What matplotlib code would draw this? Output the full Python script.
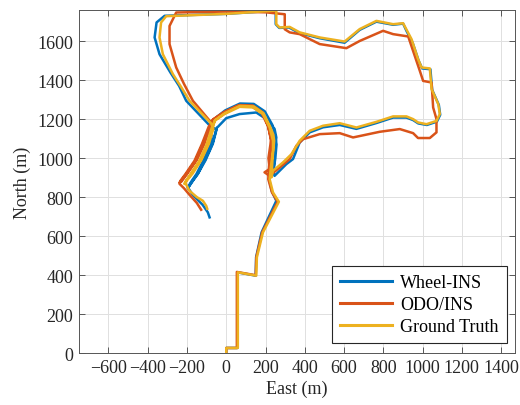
import matplotlib
matplotlib.use("Agg")
import matplotlib.pyplot as plt

plt.rcParams['font.family'] = ['Liberation Serif', 'DejaVu Serif']
plt.rcParams['mathtext.fontset'] = 'stix'

# ---------------- data (East, North in metres) ----------------
gt_east = [0, 0, 59, 59, 153, 156, 187, 268, 238, 221,
           228, 238, 238, 221, 187, 136, 68, -9, -60,
           -68, -94, -133, -179, -204, -213,
           -205, -172, -127, -88, -66, -77,
           -187, -230, -272, -323, -340, -332, -306,
           0, 255,
           255, 272, 323, 374, 476, 603, 680, 765, 850, 901,
           944, 977, 995, 1037, 1046, 1080, 1088, 1071, 1020, 977, 952, 918, 850,
           765, 663, 578, 493, 425, 374, 332, 289, 238, 230,
           236, 244, 240, 224, 190, 140, 70, -5, -55,
           -74, -100, -138, -184, -210,
           -187, -150, -119, -102, -97]
gt_north = [0, 26, 26, 414, 397, 491, 619, 776, 824, 892,
            960, 1040, 1089, 1157, 1226, 1260, 1263, 1226, 1191,
            1157, 1072, 986, 918, 884, 867,
            880, 920, 990, 1075, 1150, 1178,
            1294, 1365, 1431, 1533, 1619, 1696, 1728,
            1740, 1757,
            1687, 1670, 1673, 1645, 1619, 1598, 1662, 1704, 1687, 1692,
            1610, 1508, 1465, 1460, 1354, 1277, 1226, 1191, 1174, 1183, 1200, 1214, 1214,
            1186, 1157, 1179, 1166, 1140, 1089, 1020, 978, 935, 901,
            1000, 1089, 1120, 1160, 1230, 1265, 1268, 1232, 1196,
            1155, 1070, 985, 915, 875,
            832, 800, 781, 755, 740]

wheel_east = [0, 0, 57, 57, 150, 152, 180, 255, 232, 218,
              240, 250, 255, 246, 204, 153, 68, 0, -43,
              -48, -71, -111, -145, -170, -196,
              -182, -142, -105, -68, -50, -85,
              -204, -240, -285, -340, -365, -355, -314,
              0, 252,
              252, 270, 320, 372, 476, 603, 680, 765, 850, 901, 918,
              950, 980, 998, 1040, 1049, 1083, 1090, 1073, 1022, 978, 952, 918, 850,
              765, 663, 578, 493, 425, 374, 340, 306, 246, 240,
              250, 256, 250, 235, 196, 140, 70, -5, -50, -72,
              -78, -118, -152, -178, -196,
              -170, -120, -94, -85]
wheel_north = [0, 26, 26, 414, 397, 491, 619, 781, 830, 892,
               927, 1063, 1106, 1150, 1200, 1234, 1226, 1205, 1160,
               1157, 1072, 986, 918, 884, 845,
               868, 925, 990, 1075, 1145, 1168,
               1294, 1370, 1440, 1533, 1619, 1696, 1730,
               1740, 1757,
               1687, 1668, 1670, 1642, 1615, 1592, 1658, 1700, 1684, 1690, 1653,
               1590, 1500, 1460, 1456, 1350, 1273, 1222, 1187, 1170, 1178, 1195, 1208, 1208,
               1180, 1150, 1170, 1158, 1132, 1080, 995, 969, 909, 930,
               1000, 1070, 1110, 1170, 1240, 1278, 1280, 1245, 1210, 1170,
               1072, 986, 918, 880, 850,
               810, 760, 722, 696]

odo_east = [0, 0, 54, 54, 150, 153, 183, 262, 233, 214,
            218, 230, 228, 212, 180, 130, 60, -15, -70,
            -85, -119, -157, -204, -230, -238,
            -228, -200, -150, -112, -82, -77,
            -170, -215, -255, -289, -289, -255,
            0, 200, 298,
            298, 323, 374, 476, 612, 680, 799, 850, 927,
            986, 1003, 1046, 1054, 1071, 1071, 1037, 977, 952, 884, 782,
            646, 578, 476, 391, 357, 323, 272, 221, 195, 221,
            215, 228, 215, 185, 135, 65, -12, -65,
            -90, -124, -162, -208, -233, -238,
            -215, -190, -150, -128]
odo_north = [0, 26, 26, 416, 399, 491, 619, 776, 824, 892,
             960, 1050, 1100, 1165, 1232, 1265, 1268, 1232, 1196,
             1157, 1072, 986, 918, 884, 875,
             880, 918, 990, 1072, 1160, 1183,
             1294, 1380, 1465, 1585, 1678, 1747,
             1752, 1748, 1738,
             1661, 1645, 1636, 1585, 1564, 1601, 1653, 1636, 1624,
             1448, 1396, 1388, 1260, 1200, 1132, 1103, 1103, 1128, 1149, 1135,
             1106, 1128, 1123, 1097, 1063, 995, 952, 909, 927, 944,
             1000, 1090, 1160, 1235, 1270, 1272, 1236, 1200,
             1160, 1072, 986, 918, 884, 868,
             845, 815, 770, 735]

x_ticks = [-600, -400, -200, 0, 200, 400, 600, 800, 1000, 1200, 1400]
y_ticks = [0, 200, 400, 600, 800, 1000, 1200, 1400, 1600]
labels = ['Wheel-INS', 'ODO/INS', 'Ground Truth']
colors = ['#0072BD', '#D95319', '#EDB120']

# ---------------- figure ----------------
fig = plt.figure(figsize=(5.2, 4.06), dpi=100)
ax = fig.add_axes([0.152, 0.128, 0.838, 0.845])

ax.plot(wheel_east, wheel_north, color=colors[0], lw=1.8, label=labels[0])
ax.plot(odo_east, odo_north, color=colors[1], lw=1.8, label=labels[1])
ax.plot(gt_east, gt_north, color=colors[2], lw=1.8, label=labels[2])

ax.set_xlim(-750, 1470)
ax.set_ylim(0, 1760)
ax.set_xticks(x_ticks)
ax.set_yticks(y_ticks)
ax.grid(True, color='#e0e0e0', lw=0.7)
ax.set_axisbelow(True)

ax.tick_params(direction='in', top=True, right=True, length=4, width=0.6,
               colors='#404040', labelcolor='#262626', labelsize=13, pad=4)
for s in ax.spines.values():
    s.set_color('#555555')
    s.set_linewidth(0.7)

ax.set_xlabel('East (m)', fontsize=13, color='#262626', labelpad=3)
ax.set_ylabel('North (m)', fontsize=13, color='#262626', labelpad=5)

leg = ax.legend(loc='lower right', bbox_to_anchor=(0.981, 0.030), borderaxespad=0,
                fontsize=13, handlelength=2.9, handletextpad=0.45, labelspacing=0.28,
                borderpad=0.42, fancybox=False, framealpha=1, edgecolor='#262626')
leg.get_frame().set_linewidth(0.8)
for l in leg.get_lines():
    l.set_linewidth(2.2)

fig.savefig('out.png', dpi=100)
